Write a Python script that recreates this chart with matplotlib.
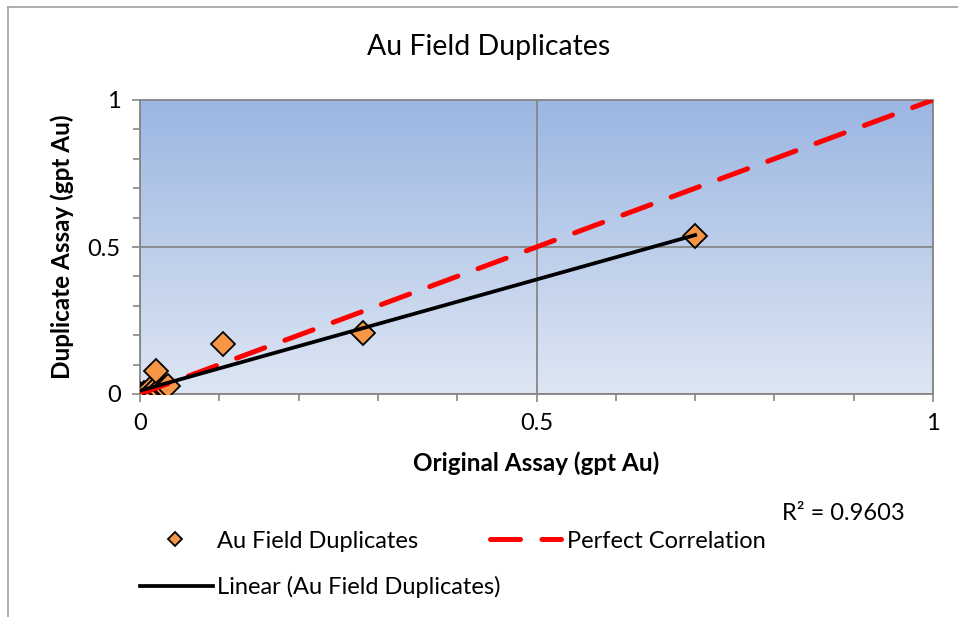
import numpy as np
import matplotlib.pyplot as plt
from matplotlib.lines import Line2D

plt.rcParams['font.family'] = ['Lato', 'DejaVu Sans']

# field duplicate pairs (gpt Au)
original = [0.000, 0.005, 0.010, 0.012, 0.016, 0.020, 0.024, 0.028, 0.032, 0.035,
            0.020, 0.105, 0.281, 0.700]
duplicate = [0.000, 0.004, 0.008, 0.016, 0.010, 0.020, 0.014, 0.024, 0.020, 0.027,
             0.078, 0.170, 0.207, 0.537]
perfect = [0, 1]
r2_text = 'R² = 0.9603'

fig = plt.figure(figsize=(9.58, 6.17), dpi=100)
ax = fig.add_axes([140 / 958, 1 - 394 / 617, 793 / 958, 294 / 617])

# blue vertical gradient behind the plot area
grad = np.linspace(0, 1, 256).reshape(-1, 1)
top = np.array([155, 182, 226]) / 255
bot = np.array([222, 230, 243]) / 255
img = top + (bot - top) * grad[:, :, None]
ax.imshow(img, extent=[0, 1, 0, 1], origin='upper', aspect='auto', zorder=0)

ax.set_xlim(0, 1)
ax.set_ylim(0, 1)
ax.set_xticks([0, 0.5, 1])
ax.set_yticks([0, 0.5, 1])
ax.set_xticklabels(['0', '0.5', '1'])
ax.set_yticklabels(['0', '0.5', '1'])
ax.set_xticks(np.arange(0, 1.01, 0.1), minor=True)
ax.set_yticks(np.arange(0, 1.01, 0.1), minor=True)
ax.tick_params(which='both', direction='out', color='#868686', width=1.2)
ax.tick_params(which='major', length=6, labelsize=17, pad=8)
ax.tick_params(which='minor', length=5)
ax.grid(which='major', color='#868686', lw=1.3, zorder=1)
ax.set_axisbelow(False)
for s in ax.spines.values():
    s.set_color('#868686')
    s.set_linewidth(1.3)

ax.plot(original, duplicate, ls='none', marker='D', ms=12, mfc='#F79646',
        mec='black', mew=1.3, zorder=3, label='Au Field Duplicates')
ax.plot(perfect, perfect, color='#FF0000', lw=3.6, dashes=(6, 4.3),
        dash_capstyle='round', zorder=4, label='Perfect Correlation')

# least squares trendline across the data range
slope, icpt = np.polyfit(original, duplicate, 1)
xs = np.array([min(original), max(original)])
ax.plot(xs, slope * xs + icpt, color='black', lw=2.7, zorder=5,
        label='Linear (Au Field Duplicates)')

fig.text(489 / 958, 1 - 47 / 617, 'Au Field Duplicates', ha='center', va='center', fontsize=20.5)
ax.set_xlabel('Original Assay (gpt Au)', fontsize=17.5, fontweight='bold', labelpad=12)
ax.set_ylabel('Duplicate Assay (gpt Au)', fontsize=17.5, fontweight='bold', labelpad=10)
fig.text(905 / 958, 1 - 513 / 617, r2_text, ha='right', va='center', fontsize=17)

h = ax.get_lines()
leg1 = fig.legend([h[0], h[1]], [h[0].get_label(), h[1].get_label()], ncol=2,
                  loc='center left', bbox_to_anchor=(140 / 958, 1 - 541 / 617),
                  frameon=False, fontsize=17, handlelength=3.0, columnspacing=3.05,
                  handletextpad=0.25, markerscale=0.6, borderpad=0, borderaxespad=0)
leg2 = fig.legend([h[2]], [h[2].get_label()], loc='center left',
                  bbox_to_anchor=(140 / 958, 1 - 587 / 617), frameon=False,
                  fontsize=17, handlelength=3.1, handletextpad=0.17,
                  borderpad=0, borderaxespad=0)

# outer chart border
fig.add_artist(Line2D([8 / 958, 1], [1 - 7 / 617] * 2, color='#A0A0A0', lw=1.2))
fig.add_artist(Line2D([8 / 958] * 2, [0, 1 - 7 / 617], color='#A0A0A0', lw=1.2))

fig.savefig('out.png', dpi=100)
